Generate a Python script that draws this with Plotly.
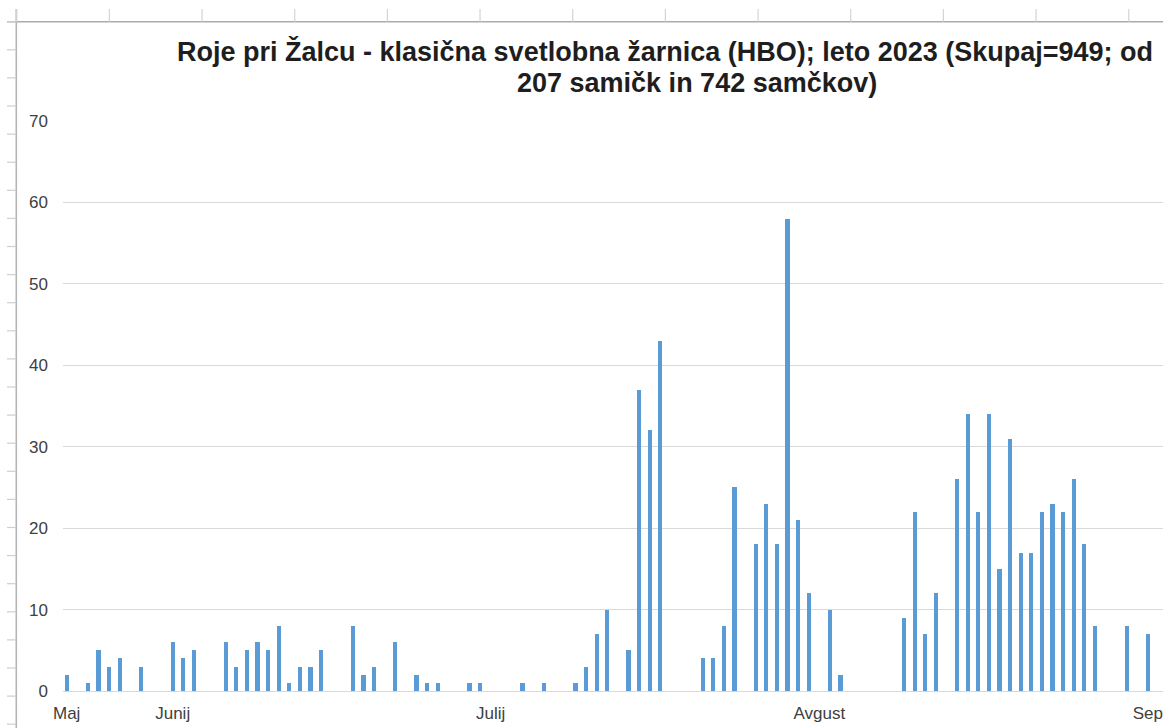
import plotly.graph_objects as go
import pandas as pd

# ---------------- data ----------------
dates = [
    "2023-05-22", "2023-05-24", "2023-05-25", "2023-05-26", "2023-05-27", "2023-05-29",
    "2023-06-01", "2023-06-02", "2023-06-03", "2023-06-06", "2023-06-07", "2023-06-08",
    "2023-06-09", "2023-06-10", "2023-06-11", "2023-06-12", "2023-06-13", "2023-06-14",
    "2023-06-15", "2023-06-18", "2023-06-19", "2023-06-20", "2023-06-22", "2023-06-24",
    "2023-06-25", "2023-06-26", "2023-06-29", "2023-06-30",
    "2023-07-04", "2023-07-06", "2023-07-09", "2023-07-10", "2023-07-11", "2023-07-12",
    "2023-07-14", "2023-07-15", "2023-07-16", "2023-07-17", "2023-07-21", "2023-07-22",
    "2023-07-23", "2023-07-24", "2023-07-26", "2023-07-27", "2023-07-28", "2023-07-29",
    "2023-07-30", "2023-07-31",
    "2023-08-02", "2023-08-03", "2023-08-09", "2023-08-10", "2023-08-11", "2023-08-12",
    "2023-08-14", "2023-08-15", "2023-08-16", "2023-08-17", "2023-08-18", "2023-08-19",
    "2023-08-20", "2023-08-21", "2023-08-22", "2023-08-23", "2023-08-24", "2023-08-25",
    "2023-08-26", "2023-08-27", "2023-08-30", "2023-09-01",
]
counts = [
    2, 1, 5, 3, 4, 3,
    6, 4, 5, 6, 3, 5,
    6, 5, 8, 1, 3, 3,
    5, 8, 2, 3, 6, 2,
    1, 1, 1, 1,
    1, 1, 1, 3, 7, 10,
    5, 37, 32, 43, 4, 4,
    8, 25, 18, 23, 18, 58,
    21, 12,
    10, 2, 9, 22, 7, 12,
    26, 34, 22, 34, 15, 31,
    17, 17, 22, 23, 22, 26,
    18, 8, 8, 7,
]
tick_dates = ["2023-05-22", "2023-06-01", "2023-07-01", "2023-08-01", "2023-09-01"]
tick_labels = ["Maj", "Junij", "Julij", "Avgust", "Sep"]
y_ticks = [0, 10, 20, 30, 40, 50, 60, 70]
title_line1 = "Roje pri Žalcu - klasična svetlobna žarnica (HBO); leto 2023 (Skupaj=949; od"
title_line2 = "207 samičk in 742 samčkov)"

# ---------------- geometry ----------------
W, H = 1163, 728
L, R, T, B = 63, 1163, 121, 691
px_per_day = 10.60

def px2x(px):
    return (px - L) / (R - L)

def px2y(py):
    return (B - py) / (B - T)

x_start = pd.Timestamp(dates[0]) - pd.Timedelta(days=(66.7 - L) / px_per_day)
x_end = x_start + pd.Timedelta(days=(R - L) / px_per_day)

fig = go.Figure()
fig.add_trace(go.Bar(
    x=pd.to_datetime(dates),
    y=counts,
    width=0.38 * 86400000,
    marker=dict(color="#5B9BD5", line=dict(width=0)),
    hoverinfo="x+y",
))

font_family = "Liberation Sans, Arial, sans-serif"

shapes = []
# spreadsheet remnants: chart top border and left border
shapes.append(dict(type="line", xref="paper", yref="paper",
                   x0=px2x(7), x1=px2x(1163), y0=px2y(21.7), y1=px2y(21.7),
                   line=dict(color="#ababab", width=1.6)))
shapes.append(dict(type="line", xref="paper", yref="paper",
                   x0=px2x(16.3), x1=px2x(16.3), y0=px2y(9), y1=px2y(728),
                   line=dict(color="#b4b4b4", width=1.6)))
# column separators above
for k in range(13):
    cx = 16.7 + 92.67 * k
    if cx > 1163:
        break
    shapes.append(dict(type="line", xref="paper", yref="paper",
                       x0=px2x(cx), x1=px2x(cx), y0=px2y(9), y1=px2y(21.7),
                       line=dict(color="#d4d4d4", width=1.2)))
# row separators on the left
for k in range(26):
    ry = 21.7 + 28.1 * k
    if ry > 728:
        break
    shapes.append(dict(type="line", xref="paper", yref="paper",
                       x0=px2x(7), x1=px2x(16.3), y0=px2y(ry), y1=px2y(ry),
                       line=dict(color="#cfcfcf", width=1.2)))

annotations = [
    dict(text="<b>" + title_line1 + "</b>", xref="paper", yref="paper",
         x=px2x(664.5), y=px2y(51), xanchor="center", yanchor="middle",
         showarrow=False, font=dict(family=font_family, size=27, color="#1e1e1e")),
    dict(text="<b>" + title_line2 + "</b>", xref="paper", yref="paper",
         x=px2x(696.5), y=px2y(83), xanchor="center", yanchor="middle",
         showarrow=False, font=dict(family=font_family, size=27, color="#1e1e1e")),
]

fig.update_layout(
    width=W, height=H,
    margin=dict(l=L, r=W - R, t=T, b=H - B, pad=0),
    paper_bgcolor="white", plot_bgcolor="white",
    showlegend=False,
    bargap=0,
    font=dict(family=font_family, size=17, color="#404040"),
    shapes=shapes,
    annotations=annotations,
    xaxis=dict(
        type="date",
        range=[x_start, x_end],
        tickmode="array",
        tickvals=pd.to_datetime(tick_dates),
        ticktext=tick_labels,
        showgrid=False, zeroline=False, showline=False,
        ticks="", ticklabelstandoff=10,
        ticklabeloverflow="allow",
        tickfont=dict(family=font_family, size=17, color="#404040"),
    ),
    yaxis=dict(
        range=[0, 70],
        tickmode="array",
        tickvals=y_ticks,
        showgrid=True, gridcolor="#d9d9d9", gridwidth=1,
        zeroline=True, zerolinecolor="#d9d9d9", zerolinewidth=1,
        showline=False, ticks="", ticklabelstandoff=14,
        tickfont=dict(family=font_family, size=17, color="#404040"),
    ),
)

fig.write_html("out.html", config={"displayModeBar": False},
               post_script="document.body.style.margin='0';")
